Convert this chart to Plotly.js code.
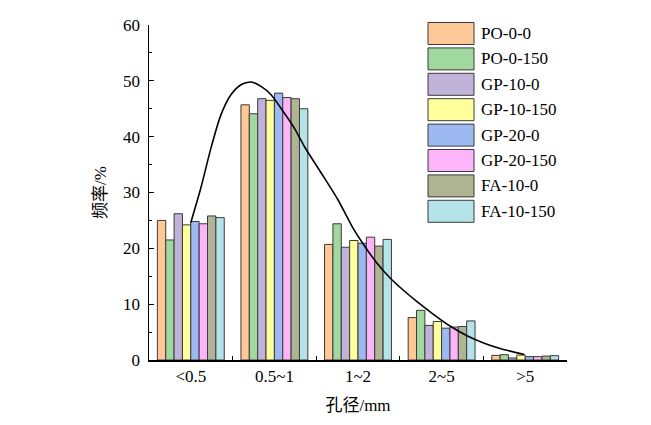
<!DOCTYPE html>
<html>
<head>
<meta charset="utf-8">
<script src="https://cdn.plot.ly/plotly-3.0.1.min.js"></script>
<style>html,body{margin:0;padding:0;background:#fff;}#chart{width:651px;height:425px;}</style>
</head>
<body>
<div id="chart"></div>
<script>
// ---- data ----
var categories = ["<0.5", "0.5~1", "1~2", "2~5", ">5"];
var seriesNames = ["PO-0-0", "PO-0-150", "GP-10-0", "GP-10-150", "GP-20-0", "GP-20-150", "FA-10-0", "FA-10-150"];
var PO_0_0    = [25.0, 45.7, 20.7, 7.6, 0.83];
var PO_0_150  = [21.5, 44.1, 24.4, 8.9, 0.95];
var GP_10_0   = [26.2, 46.8, 20.2, 6.2, 0.36];
var GP_10_150 = [24.2, 46.5, 21.4, 6.9, 0.88];
var GP_20_0   = [24.8, 47.8, 20.9, 5.7, 0.6];
var GP_20_150 = [24.4, 47.0, 22.0, 5.9, 0.6];
var FA_10_0   = [25.8, 46.8, 20.4, 6.0, 0.7];
var FA_10_150 = [25.5, 45.0, 21.6, 7.0, 0.78];
var seriesValues = [PO_0_0, PO_0_150, GP_10_0, GP_10_150, GP_20_0, GP_20_150, FA_10_0, FA_10_150];
var colors = ["#FFC896", "#A0D8A0", "#C1B2DA", "#FFFF9C", "#9DB9F2", "#FDB4F8", "#AFB493", "#B4E3E9"];
// fitted curve (x in category-index units)
var curveX = [0.0, 0.12, 0.24, 0.36, 0.48, 0.60, 0.72, 0.84, 0.96, 1.12, 1.24, 1.36, 1.56, 1.76, 1.93, 2.07, 2.23, 2.39, 2.55, 2.71, 2.91, 3.11, 3.31, 3.51, 3.71, 3.99];
var curveY = [24.6, 30.8, 37.9, 43.9, 47.5, 49.3, 49.8, 49.0, 47.5, 44.2, 41.5, 38.2, 33.5, 28.7, 23.9, 20.6, 17.3, 14.6, 12.4, 10.4, 8.1, 6.0, 4.3, 3.0, 2.0, 1.0];

// ---- layout geometry (pixels) ----
var W = 651, H = 425;
var L = 149, R = 567, T = 25, B = 360;
function px2x(p){ return (p - L) / (R - L); }
function py2y(p){ return (B - p) / (B - T); }

var serif = "Liberation Serif, Times New Roman, serif";
var cjk = "Liberation Serif, Noto Sans CJK SC, serif";

var traces = [];
for (var i = 0; i < seriesNames.length; i++) {
  traces.push({
    type: "bar",
    name: seriesNames[i],
    x: categories,
    y: seriesValues[i],
    marker: { color: colors[i], line: { color: "#3a3a3a", width: 1 } },
    showlegend: false
  });
}
traces.push({
  type: "scatter",
  mode: "lines",
  x: curveX,
  y: curveY,
  xaxis: "x2",
  line: { color: "#000", width: 1.6, shape: "spline", smoothing: 0.7 },
  showlegend: false,
  hoverinfo: "skip"
});

// custom legend (large swatches like the original)
var shapes = [], annotations = [];
var lgX0 = 428, lgX1 = 474, lgY0 = 22.5, lgH = 22, lgStep = 25.4;
for (var j = 0; j < seriesNames.length; j++) {
  var rowTop = lgY0 + j * lgStep;
  shapes.push({
    type: "rect", xref: "paper", yref: "paper",
    x0: px2x(lgX0), x1: px2x(lgX1), y0: py2y(rowTop + lgH), y1: py2y(rowTop),
    fillcolor: colors[j], line: { color: "#3a3a3a", width: 1 }, layer: "above"
  });
  annotations.push({
    xref: "paper", yref: "paper", x: px2x(lgX1 + 5), y: py2y(rowTop + lgH / 2),
    xanchor: "left", yanchor: "middle", showarrow: false,
    text: seriesNames[j], font: { family: serif, size: 17, color: "#000" }
  });
}

var layout = {
  width: W, height: H,
  margin: { l: L, r: W - R, t: T, b: H - B, pad: 0 },
  paper_bgcolor: "#fff", plot_bgcolor: "#fff",
  barmode: "group", bargap: 0.2, bargroupgap: 0,
  xaxis: {
    type: "category",
    range: [-0.5, 4.5],
    showline: true, linecolor: "#000", linewidth: 1.5,
    ticks: "inside", tickson: "boundaries", ticklen: 4, tickwidth: 1, tickcolor: "#000",
    showgrid: false, zeroline: false,
    tickfont: { family: serif, size: 17, color: "#000" },
    title: { text: "孔径/mm", font: { family: cjk, size: 17, color: "#000" }, standoff: 14 }
  },
  xaxis2: {
    overlaying: "x", range: [-0.5, 4.5], visible: false, showgrid: false, zeroline: false
  },
  yaxis: {
    range: [0, 60], dtick: 10,
    showline: true, linecolor: "#000", linewidth: 1.5,
    ticks: "inside", ticklen: 5, tickwidth: 1, tickcolor: "#000",
    minor: { dtick: 5, ticks: "inside", ticklen: 3, tickcolor: "#000", tickwidth: 1 },
    showgrid: false, zeroline: false,
    tickfont: { family: serif, size: 17, color: "#000" },
    ticklabelstandoff: 4,
    title: { text: "频率/%", font: { family: cjk, size: 17, color: "#000" }, standoff: 12 }
  },
  shapes: shapes,
  annotations: annotations,
  font: { family: serif, color: "#000" }
};

Plotly.newPlot("chart", traces, layout, { staticPlot: true, displayModeBar: false });
</script>
</body>
</html>
